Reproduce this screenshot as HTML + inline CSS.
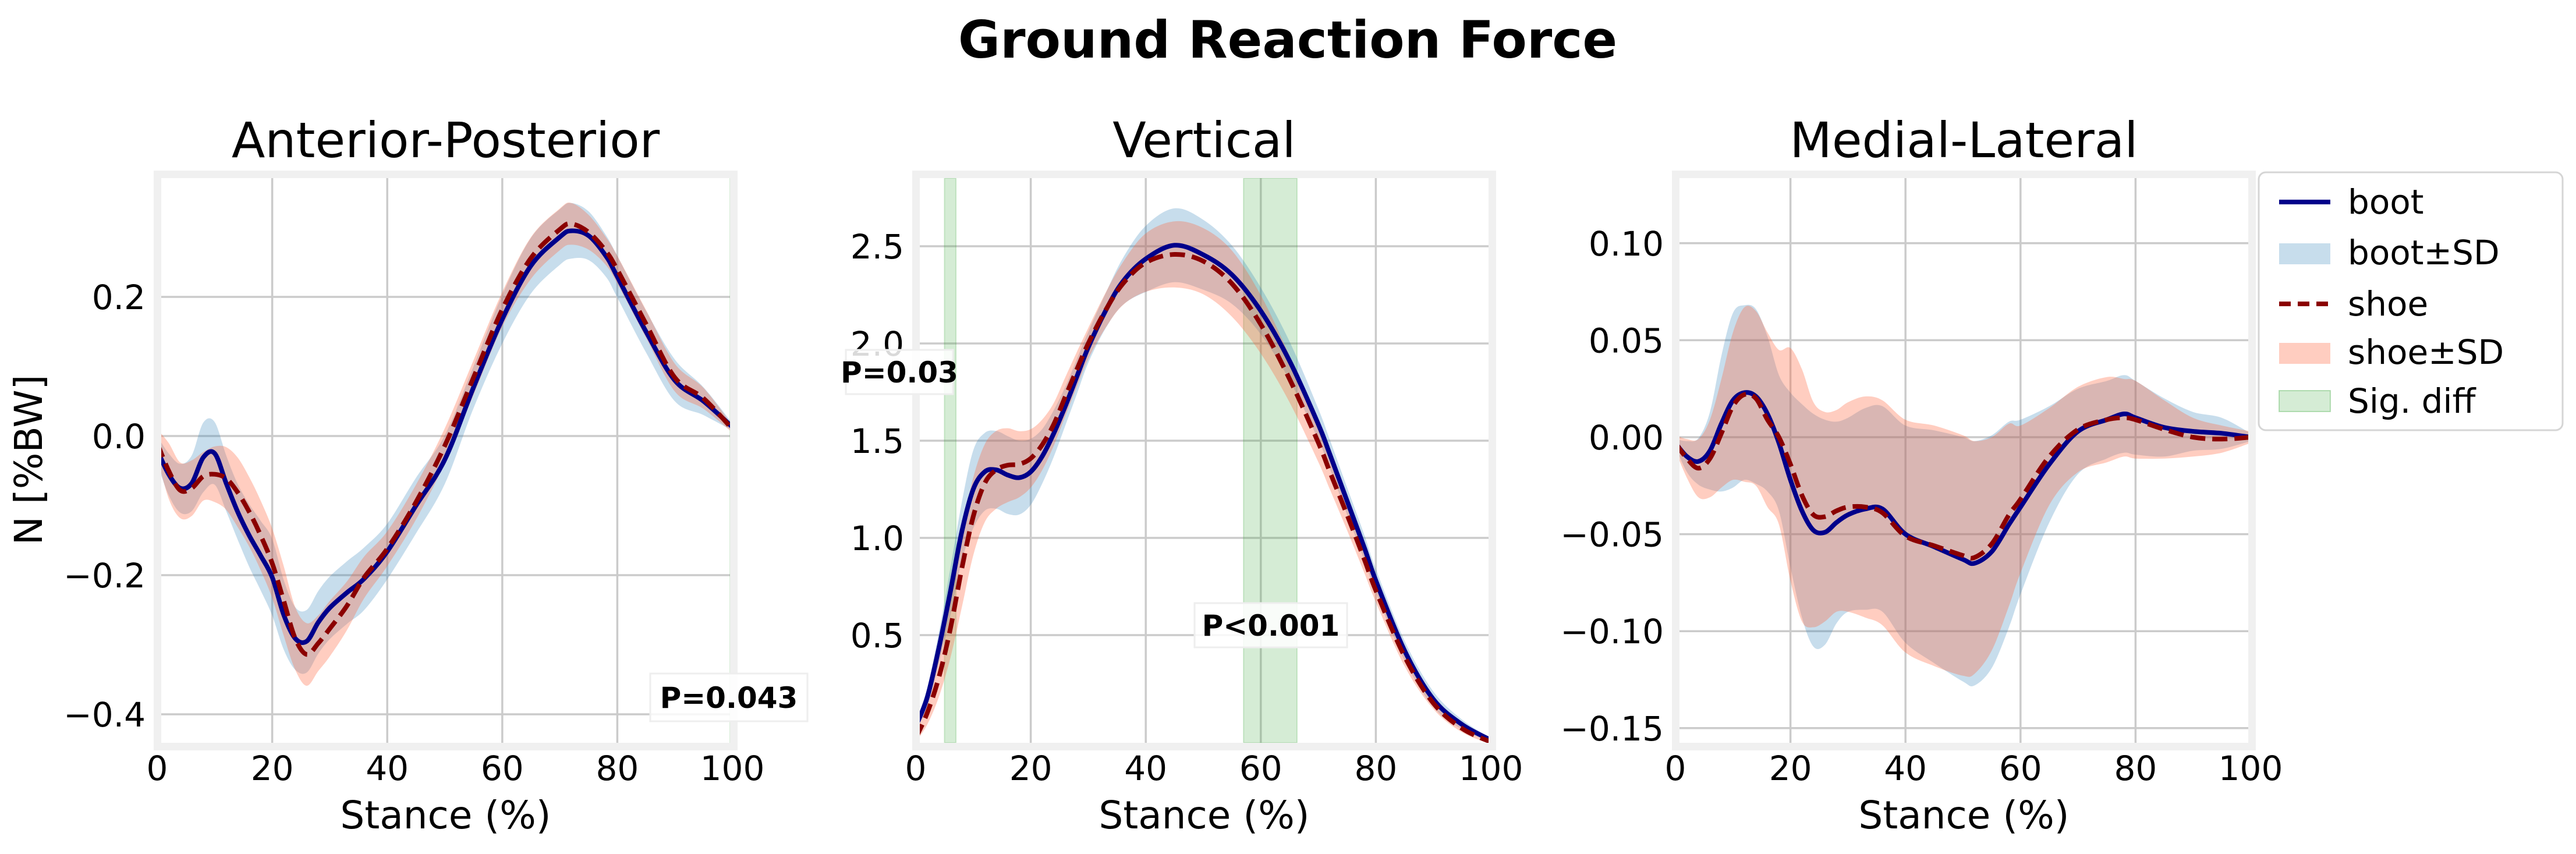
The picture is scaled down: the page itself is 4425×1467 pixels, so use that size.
<!DOCTYPE html>
<html><head><meta charset="utf-8"><style>
html,body{margin:0;padding:0;background:#fff;}
svg{display:block;font-family:"DejaVu Sans","Liberation Sans",sans-serif;}
</style></head><body>
<svg id="fig" width="4425" height="1467" viewBox="0 0 4425 1467" xmlns="http://www.w3.org/2000/svg">
<rect width="4425" height="1467" fill="#fff"/>
<text x="2212" y="99" text-anchor="middle" font-size="88" font-weight="bold">Ground Reaction Force</text>
<g id="legend">
<rect x="3880" y="296" width="522" height="443" rx="12" fill="#fff" stroke="#d5d5d5" stroke-width="3"/>
<g><line x1="3915" y1="347" x2="4003" y2="347" stroke="#00008b" stroke-width="8"/><text x="4033" y="367" font-size="58">boot</text></g>
<g><rect x="3915" y="418" width="88" height="36" fill="rgb(31,119,180)" fill-opacity="0.25"/><text x="4033" y="454" font-size="58">boot±SD</text></g>
<g><line x1="3915" y1="522" x2="4003" y2="522" stroke="#8b0000" stroke-width="8" stroke-dasharray="20 12"/><text x="4033" y="542" font-size="58">shoe</text></g>
<g><rect x="3915" y="589" width="88" height="36" fill="rgb(255,100,60)" fill-opacity="0.32"/><text x="4033" y="625" font-size="58">shoe±SD</text></g>
<g><rect x="3915" y="671" width="88" height="36" fill="rgb(44,160,44)" fill-opacity="0.2" stroke="rgb(44,160,44)" stroke-opacity="0.3" stroke-width="2"/><text x="4033" y="709" font-size="58">Sig. diff</text></g>
</g>
</svg>
<script>
// ---- Anterior-Posterior data ----
const apX = [0,2,4,6,8,10,12,14,16,18,20,22,24,26,28,30,33,36,40,45,50,55,60,65,70,72,75,78,80,85,90,95,100];
const apBoot = [-0.02,-0.055,-0.075,-0.068,-0.031,-0.025,-0.068,-0.109,-0.143,-0.172,-0.203,-0.257,-0.291,-0.295,-0.268,-0.247,-0.225,-0.205,-0.166,-0.10,-0.034,0.07,0.168,0.245,0.286,0.295,0.288,0.259,0.229,0.15,0.08,0.05,0.013];
const apBootSD = [0.02,0.03,0.035,0.04,0.05,0.045,0.04,0.04,0.045,0.05,0.055,0.05,0.045,0.045,0.045,0.045,0.045,0.045,0.04,0.04,0.035,0.03,0.035,0.04,0.04,0.04,0.035,0.03,0.03,0.03,0.03,0.02,0.005];
const apShoe = [-0.01,-0.05,-0.078,-0.075,-0.058,-0.055,-0.061,-0.081,-0.109,-0.143,-0.183,-0.237,-0.291,-0.314,-0.298,-0.277,-0.244,-0.203,-0.162,-0.095,-0.014,0.084,0.182,0.256,0.297,0.305,0.293,0.266,0.239,0.161,0.084,0.054,0.01];
const apShoeSD = [0.02,0.04,0.04,0.04,0.035,0.04,0.045,0.05,0.05,0.05,0.05,0.05,0.045,0.045,0.04,0.04,0.035,0.03,0.025,0.025,0.025,0.025,0.025,0.03,0.03,0.03,0.025,0.02,0.02,0.02,0.02,0.015,0.005];
const apSig = [[99.6,99.8]];
const apTicks = [-0.4,-0.2,0.0,0.2];
const apTickLabels = ["\u22120.4","\u22120.2","0.0","0.2"];
// ---- Vertical data ----
const vX = [0,2,4,6,8,10,12,14,16,18,20,22,24,26,28,30,33,36,40,45,50,55,60,65,70,72,75,78,80,85,90,95,100];
const vBoot = [0.03,0.18,0.43,0.72,1.03,1.25,1.34,1.35,1.323,1.31,1.34,1.42,1.537,1.677,1.828,1.98,2.167,2.318,2.435,2.505,2.456,2.353,2.167,1.91,1.584,1.43,1.19,0.95,0.78,0.42,0.17,0.04,-0.04];
const vBootSD = [0.02,0.05,0.08,0.12,0.15,0.2,0.2,0.2,0.2,0.19,0.17,0.14,0.12,0.1,0.09,0.08,0.09,0.12,0.17,0.19,0.18,0.15,0.12,0.1,0.08,0.075,0.07,0.065,0.06,0.05,0.04,0.025,0.01];
const vShoe = [-0.03,0.10,0.28,0.53,0.84,1.11,1.281,1.35,1.374,1.379,1.409,1.479,1.584,1.726,1.865,2.0,2.17,2.307,2.416,2.458,2.423,2.307,2.098,1.817,1.49,1.34,1.119,0.89,0.73,0.39,0.15,0.02,-0.05];
const vShoeSD = [0.02,0.06,0.1,0.15,0.2,0.2,0.2,0.2,0.19,0.17,0.15,0.13,0.11,0.1,0.09,0.08,0.09,0.11,0.15,0.17,0.17,0.17,0.15,0.12,0.1,0.09,0.08,0.07,0.06,0.05,0.03,0.02,0.01];
const vSig = [[5,7],[57,66.3]];
const vTicks = [0.5,1.0,1.5,2.0,2.5];
const vTickLabels = ["0.5","1.0","1.5","2.0","2.5"];
// ---- Medial-Lateral data ----
const mlX = [0,2,4,6,8,10,12,14,16,18,20,22,24,26,28,30,33,36,40,45,50,52,55,58,60,65,70,75,78,80,85,90,95,100];
const mlBoot = [-0.003,-0.01,-0.0125,-0.007,0.007,0.019,0.023,0.021,0.012,-0.003,-0.022,-0.038,-0.048,-0.049,-0.044,-0.04,-0.037,-0.037,-0.05,-0.0565,-0.063,-0.065,-0.059,-0.045,-0.036,-0.014,0.003,0.009,0.012,0.010,0.005,0.003,0.002,0.0];
const mlBootSD = [0.002,0.008,0.012,0.02,0.035,0.045,0.045,0.045,0.04,0.035,0.045,0.055,0.06,0.058,0.052,0.05,0.052,0.053,0.056,0.06,0.063,0.063,0.06,0.053,0.045,0.03,0.022,0.02,0.02,0.019,0.015,0.01,0.008,0.002];
const mlShoe = [-0.003,-0.011,-0.016,-0.011,0.002,0.016,0.022,0.02,0.009,0.0,-0.014,-0.03,-0.04,-0.041,-0.038,-0.036,-0.036,-0.039,-0.051,-0.056,-0.061,-0.062,-0.055,-0.04,-0.032,-0.01,0.004,0.009,0.01,0.009,0.004,0.0,-0.001,0.0];
const mlShoeSD = [0.004,0.01,0.015,0.02,0.028,0.038,0.045,0.045,0.045,0.045,0.06,0.065,0.058,0.054,0.052,0.054,0.057,0.058,0.06,0.062,0.062,0.06,0.055,0.047,0.038,0.025,0.022,0.022,0.02,0.02,0.015,0.01,0.007,0.003];
const mlSig = [];
const mlTicks = [-0.15,-0.10,-0.05,0.00,0.05,0.10];
const mlTickLabels = ["\u22120.15","\u22120.10","\u22120.05","0.00","0.05","0.10"];
const xTicks = [0,20,40,60,80,100];

const NS = "http://www.w3.org/2000/svg";
const svg = document.getElementById('fig');
function mk(tag, attrs, parent){const e=document.createElementNS(NS,tag);for(const k in attrs)e.setAttribute(k,attrs[k]);(parent||svg).appendChild(e);return e;}
function smooth(pts){
  let d="M"+pts[0][0].toFixed(1)+","+pts[0][1].toFixed(1);
  for(let i=0;i<pts.length-1;i++){
    const p0=pts[Math.max(0,i-1)],p1=pts[i],p2=pts[i+1],p3=pts[Math.min(pts.length-1,i+2)];
    const c1=[p1[0]+(p2[0]-p0[0])/6,p1[1]+(p2[1]-p0[1])/6];
    const c2=[p2[0]-(p3[0]-p1[0])/6,p2[1]-(p3[1]-p1[1])/6];
    d+="C"+c1[0].toFixed(1)+","+c1[1].toFixed(1)+" "+c2[0].toFixed(1)+","+c2[1].toFixed(1)+" "+p2[0].toFixed(1)+","+p2[1].toFixed(1);
  }
  return d;
}
function panel(cfg){
  const L=cfg.left, R=L+977, T=306, B=1276;
  const xs=v=>L-7+v*9.88;
  const ys=v=>cfg.y0px+(cfg.y0-v)*cfg.pxPerUnit;
  const g=mk('g',{});
  
  
  const fr=mk('rect',{x:L-6.5,y:T-6.5,width:R-L+13,height:B-T+13,fill:'#fff',stroke:'#f0f0f0','stroke-width':13},g);
  
  
  const cid='clip-'+cfg.name;
  const cp=mk('clipPath',{id:cid},g); mk('rect',{x:L,y:T,width:R-L,height:B-T},cp);
  const plot=mk('g',{'clip-path':'url(#'+cid+')'},g);
  xTicks.forEach(t=>{const l=mk('line',{x1:xs(t),x2:xs(t),y1:T,y2:B,stroke:'#cbcbcb','stroke-width':3.5},plot);
    
    });
  cfg.ticks.forEach(t=>{const l=mk('line',{x1:L,x2:R,y1:ys(t),y2:ys(t),stroke:'#cbcbcb','stroke-width':3.5},plot);
    
    });
  cfg.sig.forEach(s=>{const r=mk('rect',{x:xs(s[0]),y:T,width:xs(s[1])-xs(s[0]),height:B-T,fill:'rgb(44,160,44)','fill-opacity':0.2,stroke:'rgb(44,160,44)','stroke-opacity':0.2,'stroke-width':2},plot);
    
    });
  function band(m,sd,color,op,nm){
    const up=cfg.x.map((x,i)=>[xs(x),ys(m[i]+sd[i])]);
    const lo=cfg.x.map((x,i)=>[xs(x),ys(m[i]-sd[i])]).reverse();
    const d=smooth(up)+"L"+smooth(lo).slice(1)+"Z";
    const p=mk('path',{d:d,fill:color,'fill-opacity':op,stroke:'none'},plot);
    
    
  }
  band(cfg.boot,cfg.bootSD,'rgb(31,119,180)',0.25,cfg.name+'-boot-sd-band');
  band(cfg.shoe,cfg.shoeSD,'rgb(255,100,60)',0.32,cfg.name+'-shoe-sd-band');
  const bl=mk('path',{d:smooth(cfg.x.map((x,i)=>[xs(x),ys(cfg.boot[i])])),fill:'none',stroke:'#00008b','stroke-width':8,'stroke-linejoin':'round'},plot);
  
  
  const sl=mk('path',{d:smooth(cfg.x.map((x,i)=>[xs(x),ys(cfg.shoe[i])])),fill:'none',stroke:'#8b0000','stroke-width':8,'stroke-dasharray':'26 12'},plot);
  
  
  xTicks.forEach(t=>{const tx=mk('text',{x:xs(t),y:1340,'text-anchor':'middle','font-size':58},g);tx.textContent=String(t);
    
    });
  cfg.ticks.forEach((t,i)=>{const tx=mk('text',{x:L-27,y:ys(t)+21,'text-anchor':'end','font-size':58},g);tx.textContent=cfg.tickLabels[i];
    
    });
  const ttl=mk('text',{x:(L+R)/2,y:270,'text-anchor':'middle','font-size':84},g);ttl.textContent=cfg.title;
  
  
  const xl=mk('text',{x:(L+R)/2,y:1423,'text-anchor':'middle','font-size':66},g);xl.textContent='Stance (%)';
  
  
  cfg.pLabels.forEach(p=>{
    const pg=mk('g',{},g);
    
    
    mk('rect',{x:p.bx,y:p.by,width:p.bw,height:p.bh,fill:'#fff','fill-opacity':0.85,stroke:'#eeeeee','stroke-width':3},pg);
    const t=mk('text',{x:p.bx+p.bw/2,y:p.by+p.bh/2+18,'text-anchor':'middle','font-size':50,'font-weight':'bold'},pg);t.textContent=p.text;
  });
}
panel({name:'anterior-posterior',title:'Anterior-Posterior',left:277,y0:0,y0px:749,pxPerUnit:1195,x:apX,boot:apBoot,bootSD:apBootSD,shoe:apShoe,shoeSD:apShoeSD,sig:apSig,ticks:apTicks,tickLabels:apTickLabels,
  pLabels:[{text:'P=0.043',bx:1117,by:1157,bw:270,bh:82}]});
panel({name:'vertical',title:'Vertical',left:1580,y0:2.0,y0px:590,pxPerUnit:334,x:vX,boot:vBoot,bootSD:vBootSD,shoe:vShoe,shoeSD:vShoeSD,sig:vSig,ticks:vTicks,tickLabels:vTickLabels,
  pLabels:[{text:'P=0.03',bx:1453,by:601,bw:184,bh:76},{text:'P<0.001',bx:2052,by:1036,bw:262,bh:76}]});
panel({name:'medial-lateral',title:'Medial-Lateral',left:2885,y0:0,y0px:751,pxPerUnit:3332,x:mlX,boot:mlBoot,bootSD:mlBootSD,shoe:mlShoe,shoeSD:mlShoeSD,sig:mlSig,ticks:mlTicks,tickLabels:mlTickLabels,pLabels:[]});
const yl=mk('text',{x:0,y:0,'text-anchor':'middle','font-size':66,transform:'translate(72,790) rotate(-90)'});
yl.textContent='N [%BW]';


svg.appendChild(document.getElementById('legend'));
</script>
</body></html>
